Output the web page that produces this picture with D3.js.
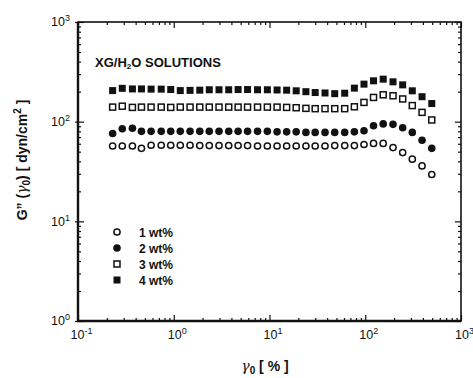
<!DOCTYPE html>
<html>
<head>
<meta charset="utf-8">
<script src="https://cdn.jsdelivr.net/npm/d3@7"></script>
<style>
  body { margin: 0; background: #fff; }
  text { font-family: "Liberation Sans", Arial, sans-serif; fill: #111; }
</style>
</head>
<body>
<svg id="chart" width="473" height="378"></svg>
<script>
// strain amplitude gamma0 [%]
var strain = [0.23, 0.29, 0.37, 0.46, 0.58, 0.74, 0.93, 1.17, 1.48, 1.87,
              2.35, 2.97, 3.75, 4.7, 5.9, 7.5, 9.5, 12, 15.1, 19,
              24, 30, 38, 48, 61, 77, 97, 122, 154, 195,
              246, 310, 392, 495];

// G''(gamma0) [dyn/cm2] for each concentration
var wt1 = [57, 57, 57, 54, 58, 58, 58, 58, 58, 57.5,
           57.5, 57.5, 57.5, 57.5, 57.5, 57, 57, 57, 57, 57,
           57, 57, 57, 57.5, 57.5, 57.5, 59, 60.5, 60.5, 55,
           49, 42, 36, 29.5];
var wt2 = [76, 85, 86, 80, 80, 80, 80, 80, 80, 80,
           80, 80, 80, 80, 80, 80, 80, 79, 79, 79,
           78, 78, 78, 78, 78, 79, 81, 91, 95, 94,
           87, 78, 65, 54];
var wt3 = [140, 143, 139, 140, 140, 140, 139, 140, 140, 140,
           140, 140, 140, 140, 140, 140, 140, 140, 139, 138,
           136, 135, 135, 135, 135, 141, 156, 175, 186, 182,
           169, 145, 124, 104];
var wt4 = [205, 216, 213, 213, 212, 212, 210, 205, 206, 207,
           209, 209, 209, 210, 210, 209, 209, 208, 207, 204,
           200, 196, 194, 191, 193, 217, 238, 257, 267, 251,
           234, 204, 178, 152];

var seriesLabels = ["1 wt%", "2 wt%", "3 wt%", "4 wt%"];
var seriesValues = [wt1, wt2, wt3, wt4];

// tick exponents for both log axes
var xTickExps = [-1, 0, 1, 2, 3];
var yTickExps = [0, 1, 2, 3];

var markers = [
  {shape: "circle", filled: false},
  {shape: "circle", filled: true},
  {shape: "square", filled: false},
  {shape: "square", filled: true}
];

var svg = d3.select("#chart");
var plotL = 78, plotR = 461, plotT = 22, plotB = 321;

var x = d3.scaleLog().domain([0.1, 1000]).range([plotL, plotR]);
var y = d3.scaleLog().domain([1, 1000]).range([plotB, plotT]);

// ---- axes (ticks point inward on all four sides) ----
function minorTicks(scale) {
  return scale.ticks().filter(function(v) {
    return Math.abs(Math.log10(v) - Math.round(Math.log10(v))) > 1e-6;
  });
}
var xMajor = xTickExps.map(function(e) { return Math.pow(10, e); });
var yMajor = yTickExps.map(function(e) { return Math.pow(10, e); });

function addAxis(axis, tx, ty, cls) {
  var g = svg.append("g").attr("class", cls)
    .attr("transform", "translate(" + tx + "," + ty + ")")
    .call(axis);
  g.select(".domain").remove();
  g.selectAll("line").attr("stroke", "#111").attr("stroke-width", 1.2);
  return g;
}

// minor ticks
addAxis(d3.axisBottom(x).tickValues(minorTicks(x)).tickSize(-3).tickFormat(""), 0, plotB, "xminor");
addAxis(d3.axisTop(x).tickValues(minorTicks(x)).tickSize(-3).tickFormat(""), 0, plotT, "xminor");
addAxis(d3.axisLeft(y).tickValues(minorTicks(y)).tickSize(-3).tickFormat(""), plotL, 0, "yminor");
addAxis(d3.axisRight(y).tickValues(minorTicks(y)).tickSize(-3).tickFormat(""), plotR, 0, "yminor");

// major ticks
addAxis(d3.axisTop(x).tickValues(xMajor).tickSize(-6).tickFormat(""), 0, plotT, "xmajor");
addAxis(d3.axisRight(y).tickValues(yMajor).tickSize(-6).tickFormat(""), plotR, 0, "ymajor");

var xAx = addAxis(d3.axisBottom(x).tickValues(xMajor).tickSize(-6).tickPadding(9).tickFormat(""), 0, plotB, "xmajor");
var yAx = addAxis(d3.axisLeft(y).tickValues(yMajor).tickSize(-6).tickPadding(8).tickFormat(""), plotL, 0, "ymajor");
yAx.selectAll(".tick").append("line").attr("x1", 0).attr("x2", -3)
  .attr("stroke", "#111").attr("stroke-width", 1.2);

// power-of-ten labels with superscript exponent
function powLabel(sel, exps) {
  sel.each(function(d, i) {
    var t = d3.select(this).select("text").text(null)
      .attr("font-size", 12.5).attr("fill", "#111");
    t.append("tspan").text("10");
    t.append("tspan").attr("font-size", 9).attr("dy", -5)
      .text(exps[i] < 0 ? "-" + Math.abs(exps[i]) : exps[i]);
  });
}
powLabel(xAx.selectAll(".tick"), xTickExps);
xAx.selectAll("text").attr("dy", "0.71em").attr("dx", 3);
powLabel(yAx.selectAll(".tick"), yTickExps);
yAx.selectAll("text").attr("dy", "0.3em").attr("text-anchor", "end");

// frame
svg.append("rect")
  .attr("x", plotL).attr("y", plotT)
  .attr("width", plotR - plotL).attr("height", plotB - plotT)
  .attr("fill", "none").attr("stroke", "#111").attr("stroke-width", 1.6);
svg.append("line").attr("x1", plotL).attr("x2", plotL).attr("y1", plotT).attr("y2", plotB + 1)
  .attr("stroke", "#111").attr("stroke-width", 2.4);
svg.append("line").attr("x1", plotL - 1).attr("x2", plotR).attr("y1", plotB).attr("y2", plotB)
  .attr("stroke", "#111").attr("stroke-width", 2.4);

// ---- markers ----
function drawMarker(g, m) {
  if (m.shape === "circle") {
    g.append("circle")
      .attr("r", m.filled ? 3.8 : 3.1)
      .attr("fill", m.filled ? "#111" : "#fff")
      .attr("stroke", "#111").attr("stroke-width", m.filled ? 0 : 1.5);
  } else {
    var s = m.filled ? 7 : 6;
    g.append("rect")
      .attr("x", -s / 2).attr("y", -s / 2).attr("width", s).attr("height", s)
      .attr("fill", m.filled ? "#111" : "#fff")
      .attr("stroke", "#111").attr("stroke-width", m.filled ? 0 : 1.5);
  }
}

seriesValues.forEach(function(vals, si) {
  var pts = vals.map(function(v, i) { return {x: strain[i], y: v}; });
  svg.append("g").selectAll("g")
    .data(pts)
    .join("g")
    .attr("transform", function(d) { return "translate(" + x(d.x) + "," + y(d.y) + ")"; })
    .each(function() { drawMarker(d3.select(this), markers[si]); });
});

// ---- legend ----
var legend = svg.append("g").attr("transform", "translate(117,232)");
seriesLabels.forEach(function(lab, i) {
  var row = legend.append("g").attr("transform", "translate(0," + (i * 16) + ")");
  drawMarker(row, markers[i]);
  row.append("text").attr("x", 22).attr("y", 4.5)
    .attr("font-size", 12).attr("font-weight", "bold").text(lab);
});

// ---- annotation ----
var note = svg.append("text").attr("x", 95).attr("y", 67)
  .attr("font-size", 13).attr("font-weight", "bold");
note.append("tspan").text("XG/H");
note.append("tspan").attr("font-size", 8).attr("dy", 2).text("2");
note.append("tspan").attr("dy", -2).text("O SOLUTIONS");

// ---- axis titles ----
var xt = svg.append("text").attr("x", 265).attr("y", 371)
  .attr("text-anchor", "middle").attr("font-size", 14).attr("font-weight", "bold");
xt.append("tspan").attr("font-style", "italic").attr("font-family", "DejaVu Serif").attr("font-weight", "normal").text("\u03B3");
xt.append("tspan").attr("font-size", 10).attr("dy", 3).text("0");
xt.append("tspan").attr("dy", -3).text(" [ % ]");

var yt = svg.append("text")
  .attr("transform", "translate(27,160) rotate(-90)")
  .attr("text-anchor", "middle").attr("font-size", 14).attr("font-weight", "bold");
yt.append("tspan").text("G\u201D (");
yt.append("tspan").attr("font-style", "italic").attr("font-family", "DejaVu Serif").attr("font-weight", "normal").text("\u03B3");
yt.append("tspan").attr("font-size", 10).attr("dy", 3).text("0");
yt.append("tspan").attr("dy", -3).text(")  [ dyn/cm");
yt.append("tspan").attr("font-size", 10).attr("dy", -6).text("2");
yt.append("tspan").attr("dy", 6).text(" ]");
</script>
</body>
</html>
